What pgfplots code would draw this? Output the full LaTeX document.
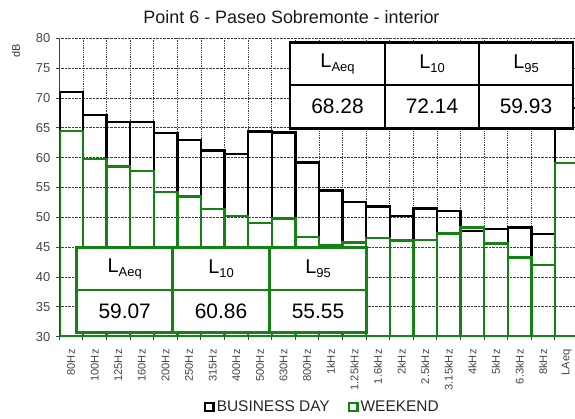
\documentclass[border=0pt]{standalone}
\usepackage{fontspec}
\setmainfont{Liberation Sans}
\usepackage{pgfplots}
\pgfplotsset{compat=1.18}
\definecolor{wkgreen}{RGB}{20,130,20}
\definecolor{ticklab}{RGB}{70,70,70}
\newcommand{\Lsub}[1]{\fontsize{20}{20}\selectfont L\raisebox{-3.5bp}{\fontsize{13}{13}\selectfont #1}}
\begin{document}
\begin{tikzpicture}
\useasboundingbox (0,0) rectangle (575bp,419bp);
\begin{axis}[
  at={(59.3bp,82.3bp)}, anchor=south west,
  scale only axis, width=515.7bp, height=298.4bp,
  xmin=-0.5, xmax=21.35, ymin=30, ymax=80,
  axis x line=bottom, axis y line=left,
  axis line style={-, black!75, line width=0.9bp},
  ytick={30,35,...,80},
  xtick={0,...,21},
  xticklabels={80Hz,100Hz,125Hz,160Hz,200Hz,250Hz,315Hz,400Hz,500Hz,630Hz,800Hz,1kHz,1.25kHz,1.6kHz,2kHz,2.5kHz,3.15kHz,4kHz,5kHz,6.3kHz,8kHz,LAeq},
  minor xtick={-0.5,0.5,...,21.5},
  xmajorgrids=false, xminorgrids=true, ymajorgrids=true,
  grid style={densely dotted, black!75, line width=0.8bp},
  minor grid style={densely dotted, black!75, line width=0.8bp},
  tick align=outside,
  major tick length=3.5bp, minor tick length=3.5bp,
  major x tick style={draw=none},
  minor x tick style={draw=black!75, line width=0.9bp},
  ytick style={black!75, line width=0.9bp},
  /pgf/number format/assume math mode=true,
  xticklabel style={rotate=90, anchor=east, inner sep=0pt, font=\fontsize{11.2}{11.2}\selectfont, text=ticklab},
  xticklabel shift=9bp,
  yticklabel style={font=\fontsize{13}{13}\selectfont, text=ticklab},
  yticklabel shift=2bp,
  legend style={at={(0.51,-0.2356)}, anchor=center, draw=none, fill=none,
    font=\fontsize{15.5}{15.5}\selectfont, text=black!85,
    /tikz/every even column/.append style={column sep=16bp}},
  legend columns=2,
]
\addplot[ybar, bar width=1, bar shift=0pt, draw=black, fill=none, line width=2.4bp, forget plot]
 coordinates {(0,71.05) (1,67.15) (2,65.95) (3,66.0) (4,64.1) (5,62.96) (6,61.2) (7,60.6) (8,64.35) (9,64.2) (10,59.2) (11,54.5) (12,52.6) (13,51.8) (14,50.2) (15,51.5) (16,51.1) (17,47.7) (18,48.0) (19,48.3) (20,47.2) (21,68.28)};
\addplot[ybar, bar width=1, bar shift=0pt, draw=wkgreen, fill=none, line width=2.4bp, forget plot]
 coordinates {(0,64.5) (1,59.75) (2,58.5) (3,57.8) (4,54.2) (5,53.5) (6,51.4) (7,50.2) (8,49.1) (9,49.8) (10,46.7) (11,45.4) (12,45.8) (13,46.5) (14,46.1) (15,46.2) (16,47.3) (17,48.3) (18,45.6) (19,43.3) (20,42.0) (21,59.07)};
\addlegendimage{legend image code/.code={\draw[black,fill=white,line width=2.5bp] (0bp,-4.2bp) rectangle (8.4bp,4.2bp);}}
\addlegendentry{BUSINESS DAY}
\addlegendimage{legend image code/.code={\draw[wkgreen,fill=white,line width=2.5bp] (0bp,-4.2bp) rectangle (8.4bp,4.2bp);}}
\addlegendentry{WEEKEND}
\end{axis}
\begin{scope}[shift={(0,419bp)}, x=1bp, y=-1bp]
  \node[text=black!90] at (291.5,17) {\fontsize{18}{18}\selectfont Point 6 - Paseo Sobremonte - interior};
  \node[rotate=90, text=black!80] at (16,51) {\fontsize{11}{11}\selectfont dB};
  % upper table
  \draw[black, line width=2.5bp, fill=white] (290,42.7) rectangle (573,128.3);
  \draw[black, line width=2.5bp] (290,85) -- (573,85) (385,42.7) -- (385,128.3) (479,42.7) -- (479,128.3);
  \node at (337.5,63.9) {\Lsub{Aeq}};
  \node at (432,63.9) {\Lsub{10}};
  \node at (526,63.9) {\Lsub{95}};
  \node at (337.5,106.7) {\fontsize{21}{21}\selectfont 68.28};
  \node at (432,106.7) {\fontsize{21}{21}\selectfont 72.14};
  \node at (526,106.7) {\fontsize{21}{21}\selectfont 59.93};
  % lower table
  \draw[wkgreen, line width=2.5bp, fill=white] (76.7,247.7) rectangle (366.7,332.3);
  \draw[wkgreen, line width=2.5bp] (76.7,290) -- (366.7,290) (172.7,247.7) -- (172.7,332.3) (269.3,247.7) -- (269.3,332.3);
  \node at (124.7,268.9) {\Lsub{Aeq}};
  \node at (221,268.9) {\Lsub{10}};
  \node at (318,268.9) {\Lsub{95}};
  \node at (124.7,311.2) {\fontsize{21}{21}\selectfont 59.07};
  \node at (221,311.2) {\fontsize{21}{21}\selectfont 60.86};
  \node at (318,311.2) {\fontsize{21}{21}\selectfont 55.55};
\end{scope}
\end{tikzpicture}
\end{document}
